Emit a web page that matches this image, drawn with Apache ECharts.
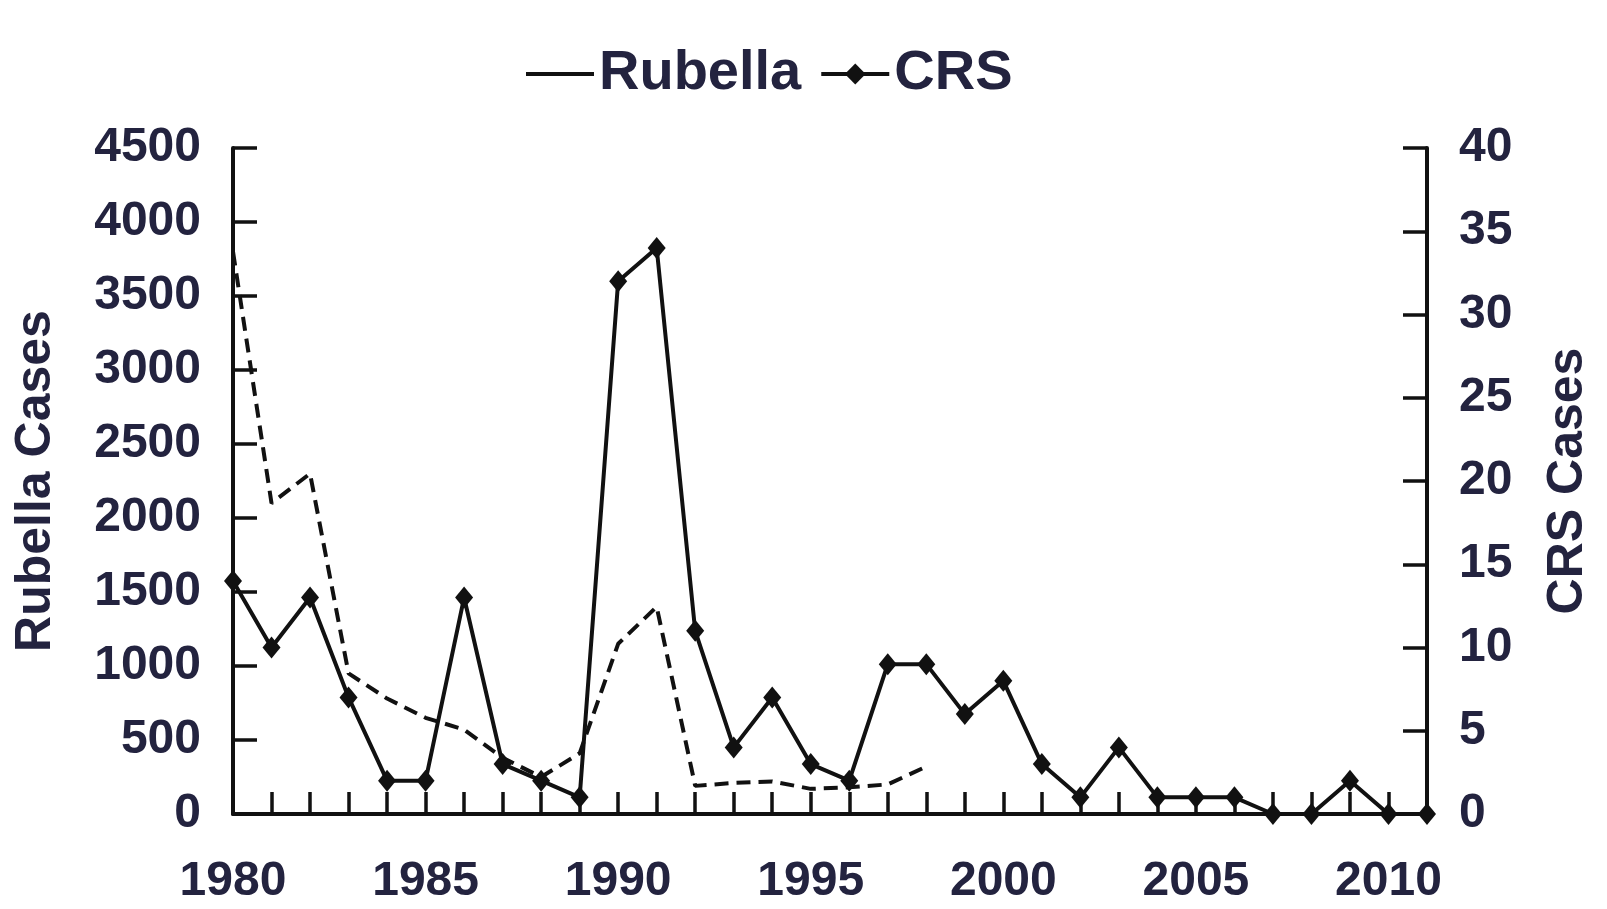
<!DOCTYPE html>
<html>
<head>
<meta charset="utf-8">
<script src="https://cdn.jsdelivr.net/npm/echarts@6/dist/echarts.min.js"></script>
<style>
html,body{margin:0;padding:0;background:#fff;}
#chart{width:1607px;height:909px;}
</style>
</head>
<body>
<div id="chart"></div>
<script>
const years = ['1980','1981','1982','1983','1984','1985','1986','1987','1988','1989','1990','1991','1992','1993','1994','1995','1996','1997','1998','1999','2000','2001','2002','2003','2004','2005','2006','2007','2008','2009','2010','2011'];
const rubellaCases = [3800,2100,2300,950,780,650,570,380,250,410,1150,1400,190,210,220,170,180,200,320];
const crsCases = [14,10,13,7,2,2,13,3,2,1,32,34,11,4,7,3,2,9,9,6,8,3,1,4,1,1,1,0,0,2,0,0];
const leftTicks = {min:0, max:4500, step:500};
const rightTicks = {min:0, max:40, step:5};

const ink = '#111111';
const txt = '#23233f';
const font = '"Liberation Sans", Arial, sans-serif';

const chart = echarts.init(document.getElementById('chart'));
chart.setOption({
  animation: false,
  backgroundColor: '#ffffff',
  legend: {
    left: 521, top: 41,
    itemWidth: 68, itemHeight: 26, itemGap: 18,
    textStyle: {fontFamily: font, fontSize: 56, fontWeight: 'bold', color: txt},
    data: [
      {name: 'Rubella', icon: 'path://M0,0 L68,0 L68,4 L0,4 Z', itemStyle: {color: ink}},
      {name: 'CRS', lineStyle: {type: 'solid', width: 4, color: ink}}
    ]
  },
  grid: {left: 233, right: 180, top: 148, bottom: 95, containLabel: false},
  xAxis: {
    type: 'category',
    data: years,
    boundaryGap: false,
    axisLine: {lineStyle: {color: ink, width: 4}},
    axisTick: {inside: true, length: 22, interval: 0, lineStyle: {color: ink, width: 3.5}},
    axisLabel: {interval: 4, margin: 44, fontFamily: font, fontSize: 48, fontWeight: 'bold', color: txt},
    splitLine: {show: false}
  },
  yAxis: [
    {
      type: 'value', position: 'left',
      min: leftTicks.min, max: leftTicks.max, interval: leftTicks.step,
      name: 'Rubella Cases', nameLocation: 'middle', nameRotate: 90, nameGap: 172,
      nameTextStyle: {fontFamily: font, fontSize: 50, fontWeight: 'bold', color: txt},
      axisLine: {show: true, lineStyle: {color: ink, width: 4}},
      axisTick: {show: true, inside: true, length: 24, lineStyle: {color: ink, width: 3.5}},
      axisLabel: {margin: 32, fontFamily: font, fontSize: 48, fontWeight: 'bold', color: txt, formatter: v => String(v)},
      splitLine: {show: false}
    },
    {
      type: 'value', position: 'right',
      min: rightTicks.min, max: rightTicks.max, interval: rightTicks.step,
      name: 'CRS Cases', nameLocation: 'middle', nameRotate: 90, nameGap: 116,
      nameTextStyle: {fontFamily: font, fontSize: 50, fontWeight: 'bold', color: txt},
      axisLine: {show: true, lineStyle: {color: ink, width: 4}},
      axisTick: {show: true, inside: true, length: 24, lineStyle: {color: ink, width: 3.5}},
      axisLabel: {margin: 32, fontFamily: font, fontSize: 48, fontWeight: 'bold', color: txt, formatter: v => String(v)},
      splitLine: {show: false}
    }
  ],
  series: [
    {
      name: 'Rubella', type: 'line', yAxisIndex: 0,
      data: rubellaCases,
      symbol: 'none',
      lineStyle: {color: ink, width: 4, type: [14, 8]},
      itemStyle: {color: ink},
      z: 2
    },
    {
      name: 'CRS', type: 'line', yAxisIndex: 1,
      data: crsCases,
      symbol: 'diamond', symbolSize: [18, 22],
      lineStyle: {color: ink, width: 4, type: 'solid'},
      itemStyle: {color: ink},
      z: 3
    }
  ]
});
</script>
</body>
</html>
